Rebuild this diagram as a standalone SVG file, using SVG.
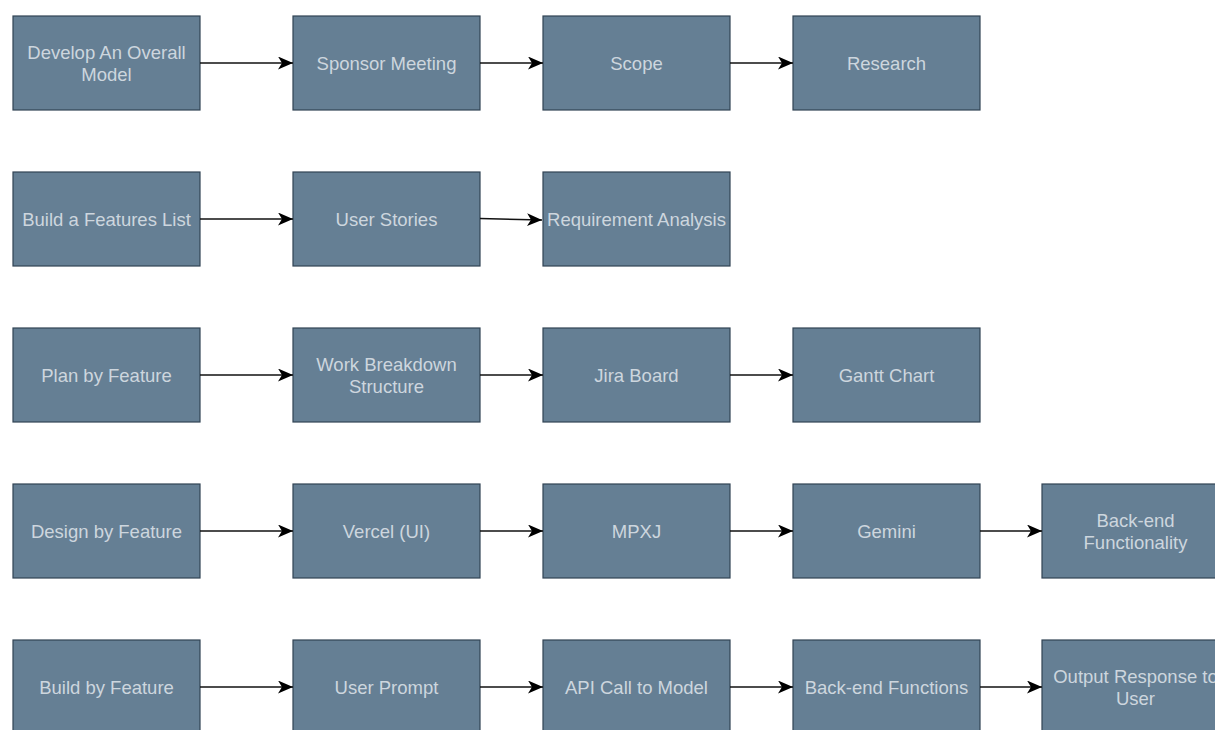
<svg xmlns="http://www.w3.org/2000/svg" width="1215" height="730" viewBox="0 0 1215 730">
<style>
.box{fill:#657f94;stroke:#314354;stroke-width:1.2}
.t{font-family:"Liberation Sans",Arial,sans-serif;font-size:18.5px;fill:#cdd6de;text-anchor:middle}
.e{fill:none;stroke:#111;stroke-width:1.5}
</style>
<defs>
<marker id="ah" markerUnits="userSpaceOnUse" markerWidth="16" markerHeight="14" refX="15" refY="6.5" orient="auto">
<path d="M0,0 L15,6.5 L0,13 L4,6.5 Z" fill="#000"/>
</marker>
</defs>
<rect width="1215" height="730" fill="#fff"/>
<g id="n1"><rect class="box" x="13" y="16" width="187" height="94"/><text class="t" x="106.5" y="59">Develop An Overall</text><text class="t" x="106.5" y="80.5">Model</text></g>
<g id="n2"><rect class="box" x="293" y="16" width="187" height="94"/><text class="t" x="386.5" y="70">Sponsor Meeting</text></g>
<g id="n3"><rect class="box" x="543" y="16" width="187" height="94"/><text class="t" x="636.5" y="70">Scope</text></g>
<g id="n4"><rect class="box" x="793" y="16" width="187" height="94"/><text class="t" x="886.5" y="70">Research</text></g>

<g id="n5"><rect class="box" x="13" y="172" width="187" height="94"/><text class="t" x="106.5" y="226">Build a Features List</text></g>
<g id="n6"><rect class="box" x="293" y="172" width="187" height="94"/><text class="t" x="386.5" y="226">User Stories</text></g>
<g id="n7"><rect class="box" x="543" y="172" width="187" height="94"/><text class="t" x="636.5" y="226">Requirement Analysis</text></g>

<g id="n8"><rect class="box" x="13" y="328" width="187" height="94"/><text class="t" x="106.5" y="382">Plan by Feature</text></g>
<g id="n9"><rect class="box" x="293" y="328" width="187" height="94"/><text class="t" x="386.5" y="371">Work Breakdown</text><text class="t" x="386.5" y="392.5">Structure</text></g>
<g id="n10"><rect class="box" x="543" y="328" width="187" height="94"/><text class="t" x="636.5" y="382">Jira Board</text></g>
<g id="n11"><rect class="box" x="793" y="328" width="187" height="94"/><text class="t" x="886.5" y="382">Gantt Chart</text></g>

<g id="n12"><rect class="box" x="13" y="484" width="187" height="94"/><text class="t" x="106.5" y="538">Design by Feature</text></g>
<g id="n13"><rect class="box" x="293" y="484" width="187" height="94"/><text class="t" x="386.5" y="538">Vercel (UI)</text></g>
<g id="n14"><rect class="box" x="543" y="484" width="187" height="94"/><text class="t" x="636.5" y="538">MPXJ</text></g>
<g id="n15"><rect class="box" x="793" y="484" width="187" height="94"/><text class="t" x="886.5" y="538">Gemini</text></g>
<g id="n16"><rect class="box" x="1042" y="484" width="187" height="94"/><text class="t" x="1135.5" y="527">Back-end</text><text class="t" x="1135.5" y="548.5">Functionality</text></g>

<g id="n17"><rect class="box" x="13" y="640" width="187" height="94"/><text class="t" x="106.5" y="694">Build by Feature</text></g>
<g id="n18"><rect class="box" x="293" y="640" width="187" height="94"/><text class="t" x="386.5" y="694">User Prompt</text></g>
<g id="n19"><rect class="box" x="543" y="640" width="187" height="94"/><text class="t" x="636.5" y="694">API Call to Model</text></g>
<g id="n20"><rect class="box" x="793" y="640" width="187" height="94"/><text class="t" x="886.5" y="694">Back-end Functions</text></g>
<g id="n21"><rect class="box" x="1042" y="640" width="187" height="94"/><text class="t" x="1135.5" y="683">Output Response to</text><text class="t" x="1135.5" y="704.5">User</text></g>

<g id="edges">
<path class="e" marker-end="url(#ah)" d="M200,63 L293,63"/>
<path class="e" marker-end="url(#ah)" d="M480,63 L543,63"/>
<path class="e" marker-end="url(#ah)" d="M730,63 L793,63"/>
<path class="e" marker-end="url(#ah)" d="M200,219 L293,219"/>
<path class="e" marker-end="url(#ah)" d="M480,218.5 L542,220"/>
<path class="e" marker-end="url(#ah)" d="M200,375 L293,375"/>
<path class="e" marker-end="url(#ah)" d="M480,375 L543,375"/>
<path class="e" marker-end="url(#ah)" d="M730,375 L793,375"/>
<path class="e" marker-end="url(#ah)" d="M200,531 L293,531"/>
<path class="e" marker-end="url(#ah)" d="M480,531 L543,531"/>
<path class="e" marker-end="url(#ah)" d="M730,531 L793,531"/>
<path class="e" marker-end="url(#ah)" d="M980,531 L1042,531"/>
<path class="e" marker-end="url(#ah)" d="M200,687 L293,687"/>
<path class="e" marker-end="url(#ah)" d="M480,687 L543,687"/>
<path class="e" marker-end="url(#ah)" d="M730,687 L793,687"/>
<path class="e" marker-end="url(#ah)" d="M980,687 L1042,687"/>
</g>
</svg>
